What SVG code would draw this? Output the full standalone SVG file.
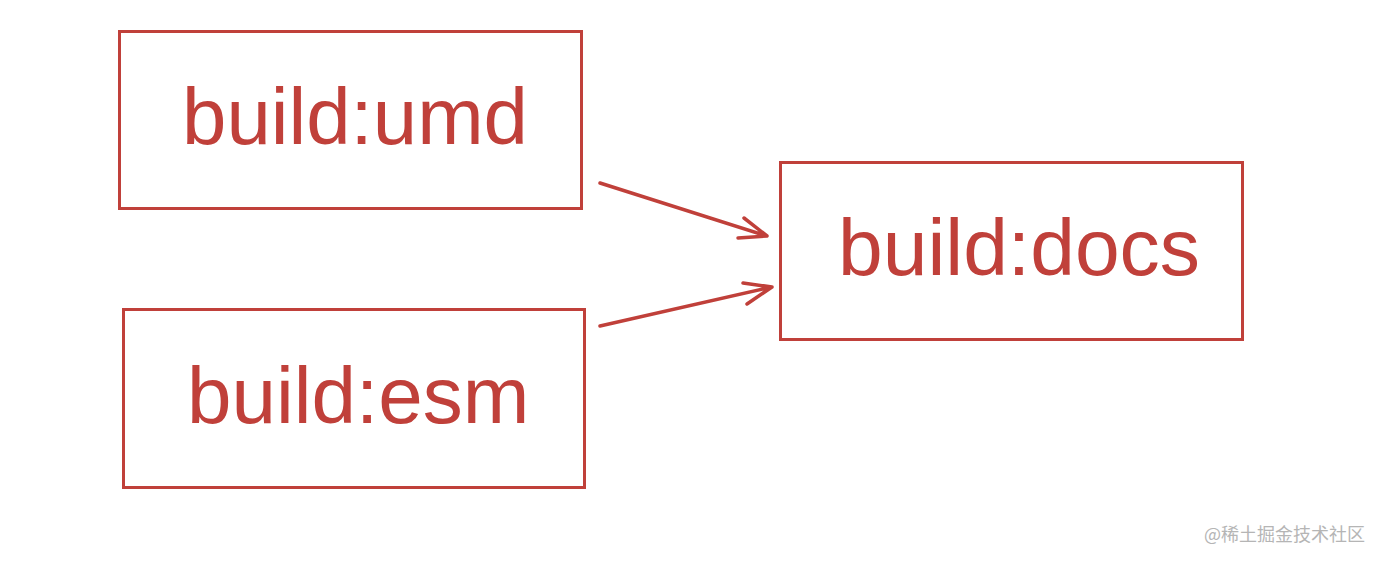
<svg xmlns="http://www.w3.org/2000/svg" width="1384" height="561" viewBox="0 0 1384 561">
<style>
.box{fill:none;stroke:#c0403a;stroke-width:3}
.lbl{font-family:"Liberation Sans",Arial,sans-serif;font-size:80px;fill:#c0403a}
.conn{fill:none;stroke:#c0403a;stroke-width:3.5;stroke-linecap:round;stroke-linejoin:round}
.wm{font-family:"Noto Sans CJK SC","Noto Sans",sans-serif;font-size:18px;fill:#b5b5b5}
</style>
<rect width="1384" height="561" fill="#ffffff"/>
<g id="node-umd">
<rect class="box" x="119.5" y="31.5" width="462" height="177"/>
<text class="lbl" x="182" y="144" textLength="346" lengthAdjust="spacingAndGlyphs">build:umd</text>
</g>
<g id="node-esm">
<rect class="box" x="123.5" y="309.5" width="461" height="178"/>
<text class="lbl" x="187" y="423">build:esm</text>
</g>
<g id="node-docs">
<rect class="box" x="780.5" y="162.5" width="462" height="177"/>
<text class="lbl" x="838" y="275" textLength="362" lengthAdjust="spacingAndGlyphs">build:docs</text>
</g>
<g id="connectors">
<path class="conn" d="M600 183 L767 236 M744 218 L767 236 L738 238"/>
<path class="conn" d="M600 326 L772 287 M743 283 L772 287 L747 304"/>
</g>
<text class="wm" x="1204" y="541">@稀土掘金技术社区</text>
</svg>
